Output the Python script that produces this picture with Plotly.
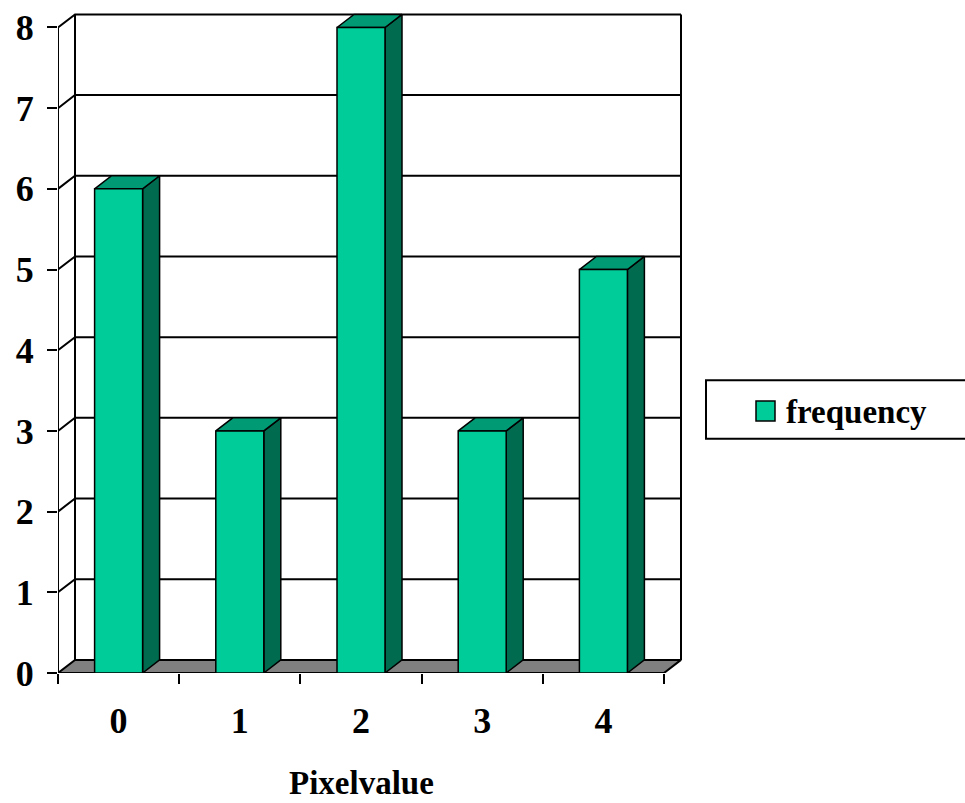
import plotly.graph_objects as go

# ---- data ----
categories = ["0", "1", "2", "3", "4"]
frequency = [6, 3, 8, 3, 5]
y_ticks = [0, 1, 2, 3, 4, 5, 6, 7, 8]
series_name = "frequency"
x_title = "Pixelvalue"

# ---- layout geometry ----
W, H = 965, 803
L, R, T, B = 58, 283, 8, 130
PW, PH = W - L - R, H - T - B
CAT_PX = 121.2          # pixels per category
VAL_PX = 81.3           # pixels per value unit
DX = 17.0 / CAT_PX      # depth offset (x, data units)
DY = 13.2 / VAL_PX      # depth offset (y, data units)
HALF = 24 / CAT_PX      # half bar width
n = len(categories)
x0_, x1_ = -0.5, n - 0.5
xmax = -0.5 + PW / CAT_PX
ymax = PH / VAL_PX
top = max(y_ticks)

FRONT = "#00CC99"
TOP = "#009B74"
SIDE = "#006B4F"
FLOOR = "#808080"
FONT = "Liberation Serif"

fig = go.Figure()

# back wall and gridlines
gx, gy = [], []
for v in y_ticks[1:]:
    gx += [x0_, x0_ + DX, x1_ + DX, None]
    gy += [v, v + DY, v + DY, None]
gx += [x0_ + DX, x0_ + DX, None, x1_ + DX, x1_ + DX, None]
gy += [DY, top + DY, None, DY, top + DY, None]
fig.add_trace(go.Scatter(x=gx, y=gy, mode="lines", line=dict(color="black", width=2),
                         hoverinfo="skip", showlegend=False))

# floor
fig.add_trace(go.Scatter(x=[x0_, x1_, x1_ + DX, x0_ + DX, x0_], y=[0, 0, DY, DY, 0],
                         mode="lines", fill="toself", fillcolor=FLOOR,
                         line=dict(color="black", width=2), hoverinfo="skip", showlegend=False))

# bars
sx, sy, tx, ty, fx, fy = [], [], [], [], [], []
for i, v in enumerate(frequency):
    a, b = i - HALF, i + HALF
    fx += [a, b, b, a, a, None]
    fy += [0, 0, v, v, 0, None]
    sx += [b, b + DX, b + DX, b, b, None]
    sy += [0, DY, v + DY, v, 0, None]
    tx += [a, b, b + DX, a + DX, a, None]
    ty += [v, v, v + DY, v + DY, v, None]
for xs, ys, col in [(sx, sy, SIDE), (tx, ty, TOP), (fx, fy, FRONT)]:
    fig.add_trace(go.Scatter(x=xs, y=ys, mode="lines", fill="toself", fillcolor=col,
                             line=dict(color="black", width=1.5), hoverinfo="skip",
                             showlegend=False))

# front value axis line
fig.add_trace(go.Scatter(x=[x0_, x0_], y=[0, top], mode="lines",
                         line=dict(color="black", width=2), hoverinfo="skip", showlegend=False))

fig.update_layout(
    width=W, height=H,
    margin=dict(l=L, r=R, t=T, b=B),
    plot_bgcolor="white", paper_bgcolor="white",
    showlegend=False,
    font=dict(family=FONT, color="black"),
    xaxis=dict(range=[-0.5, xmax], showgrid=False, zeroline=False, showline=False,
               tickmode="array", tickvals=list(range(n)), ticktext=categories,
               ticks="", ticklabelstandoff=23,
               tickfont=dict(family=FONT, size=36, color="black", weight="bold"),
               minor=dict(tick0=-0.5, dtick=1, ticks="outside", ticklen=10,
                          tickwidth=2, tickcolor="black", showgrid=False),
               fixedrange=True),
    yaxis=dict(range=[0, ymax], showgrid=False, zeroline=False, showline=False,
               tickmode="array", tickvals=y_ticks, ticktext=[str(t) for t in y_ticks],
               ticks="outside", ticklen=10, tickwidth=2, tickcolor="black",
               ticklabelstandoff=6,
               tickfont=dict(family=FONT, size=36, color="black", weight="bold"),
               fixedrange=True),
)

# x axis title
fig.add_annotation(x=(n - 1) / 2, xref="x", y=0, yref="paper", yanchor="middle",
                   yshift=-(783 - 673), text="<b>%s</b>" % x_title, showarrow=False,
                   font=dict(family=FONT, size=33, color="black"))

# legend box (manual)
def px2x(p):
    return (p - L) / PW

def py2y(p):
    return (H - B - p) / PH

fig.add_shape(type="rect", xref="paper", yref="paper",
              x0=px2x(706), x1=px2x(1100), y0=py2y(437), y1=py2y(378),
              line=dict(color="black", width=2), fillcolor="white")
fig.add_shape(type="rect", xref="paper", yref="paper",
              x0=px2x(756), x1=px2x(775), y0=py2y(419), y1=py2y(399),
              line=dict(color="black", width=1.5), fillcolor=FRONT)
fig.add_annotation(x=px2x(784), y=py2y(410), xref="paper", yref="paper",
                   xanchor="left", yanchor="middle", showarrow=False,
                   text="<b>%s</b>" % series_name,
                   font=dict(family=FONT, size=33, color="black"))

fig.write_html("out.html", config={"displayModeBar": False},
               post_script="document.body.style.margin='0';")
